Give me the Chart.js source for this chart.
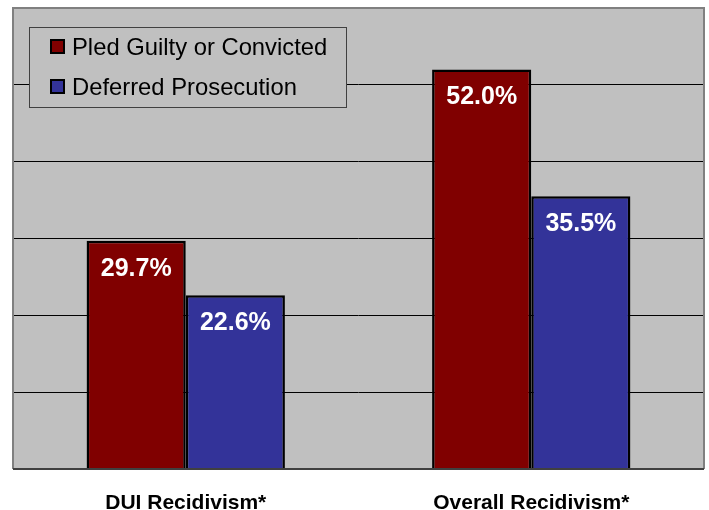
<!DOCTYPE html>
<html>
<head>
<meta charset="utf-8">
<script src="https://cdn.jsdelivr.net/npm/chart.js@4/dist/chart.umd.min.js"></script>
<style>
  html, body { margin: 0; padding: 0; background: #fff; }
  #wrap { width: 709px; height: 510px; }
</style>
</head>
<body>
<div id="wrap"><canvas id="barChart"></canvas></div>
<script>
var categories = ['DUI Recidivism*', 'Overall Recidivism*'];
var pledGuilty = [29.7, 52.0];
var deferred = [22.6, 35.5];
var seriesNames = ['Pled Guilty or Convicted', 'Deferred Prosecution'];
var seriesColors = ['#800000', '#333399'];
var FONT = "Arial, 'Liberation Sans', sans-serif";

// gray plot area behind the bars
var plotBg = {
    id: 'plotBg',
    beforeDraw: function (chart) {
        var a = chart.chartArea, c = chart.ctx;
        c.save();
        c.fillStyle = '#c0c0c0';
        c.fillRect(a.left, a.top, a.right - a.left, a.bottom - a.top);
        c.restore();
    },
    afterDraw: function (chart) {
        var a = chart.chartArea, c = chart.ctx;
        c.save();
        // frame
        c.strokeStyle = '#808080';
        c.lineWidth = 2;
        c.beginPath();
        c.moveTo(a.left, a.bottom);
        c.lineTo(a.left, a.top);
        c.lineTo(a.right, a.top);
        c.lineTo(a.right, a.bottom);
        c.stroke();
        c.strokeStyle = '#404040';
        c.beginPath();
        c.moveTo(a.left, a.bottom);
        c.lineTo(a.right, a.bottom);
        c.stroke();

        // value labels inside bars
        c.fillStyle = '#fff';
        c.font = 'bold 25px ' + FONT;
        c.textAlign = 'center';
        c.textBaseline = 'middle';
        chart.data.datasets.forEach(function (ds, i) {
            chart.getDatasetMeta(i).data.forEach(function (bar, j) {
                c.fillText(ds.data[j].toFixed(1) + '%', bar.x, bar.y + 28);
            });
        });

        // legend box
        var lx = 29, ly = 27, lw = 317, lh = 80;
        c.fillStyle = '#c0c0c0';
        c.fillRect(lx, ly, lw, lh);
        c.strokeStyle = '#404040';
        c.lineWidth = 1;
        c.strokeRect(lx + 0.5, ly + 0.5, lw, lh);
        c.font = '23.8px ' + FONT;
        c.textAlign = 'left';
        chart.data.datasets.forEach(function (ds, i) {
            var yy = ly + 20 + i * 40;
            c.fillStyle = ds.backgroundColor;
            c.fillRect(51, yy - 7, 13, 13);
            c.strokeStyle = '#000';
            c.lineWidth = 2;
            c.strokeRect(51, yy - 7, 13, 13);
            c.fillStyle = '#000';
            c.fillText(ds.label, 72, yy + 1);
        });
        c.restore();
    }
};

new Chart(document.getElementById('barChart'), {
    type: 'bar',
    data: {
        labels: categories,
        datasets: [
            {
                label: seriesNames[0],
                data: pledGuilty,
                backgroundColor: seriesColors[0],
                borderColor: '#000',
                borderWidth: 2.5,
                barPercentage: 1,
                categoryPercentage: 0.574
            },
            {
                label: seriesNames[1],
                data: deferred,
                backgroundColor: seriesColors[1],
                borderColor: '#000',
                borderWidth: 2.5,
                barPercentage: 1,
                categoryPercentage: 0.574
            }
        ]
    },
    options: {
        responsive: true,
        maintainAspectRatio: false,
        animation: false,
        layout: { padding: { left: 13, right: 5, top: 8, bottom: 0 } },
        plugins: {
            legend: { display: false },
            tooltip: { enabled: false }
        },
        scales: {
            x: {
                grid: { display: false },
                border: { display: false },
                ticks: {
                    color: '#000',
                    padding: 16,
                    maxRotation: 0,
                    font: { family: FONT, size: 21, weight: 'bold', lineHeight: 1 }
                },
                afterFit: function (scale) { scale.height = 41; }
            },
            y: {
                min: 0,
                max: 60,
                ticks: { display: false, stepSize: 10 },
                border: { display: false },
                grid: { color: '#000', lineWidth: 1, drawTicks: false },
                afterFit: function (scale) { scale.width = 0; }
            }
        }
    },
    plugins: [plotBg]
});
</script>
</body>
</html>
